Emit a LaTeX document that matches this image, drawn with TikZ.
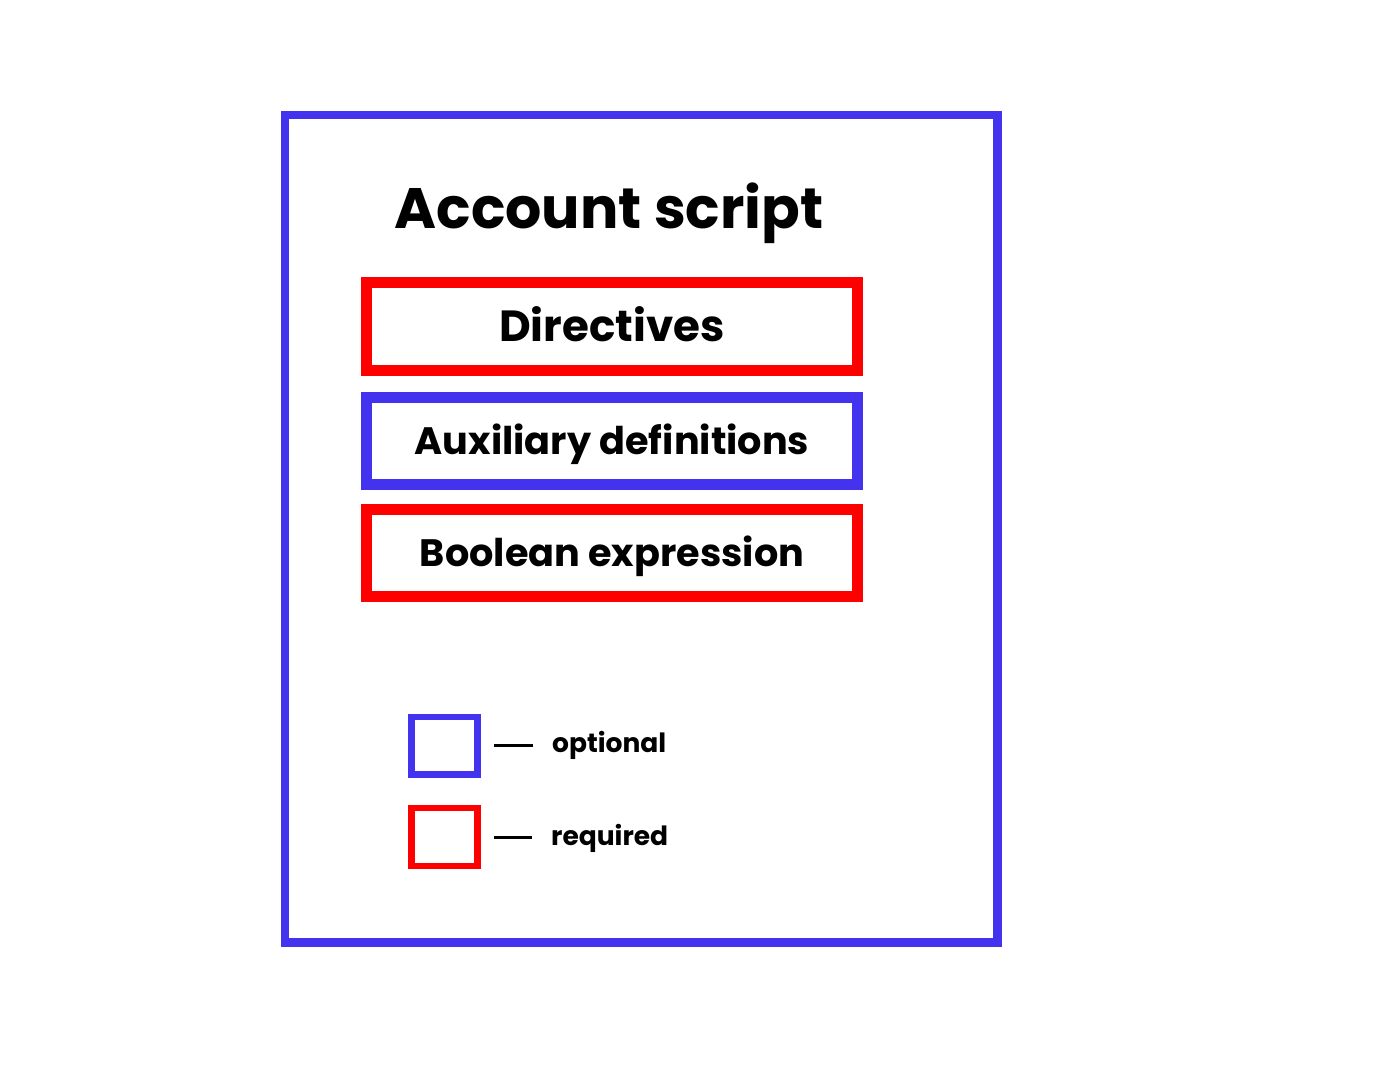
\documentclass[tikz,border=0pt]{standalone}
\usepackage{fontspec}
\setmainfont{Poppins}
\usetikzlibrary{positioning}
\definecolor{optblue}{RGB}{68,51,238}
\definecolor{reqred}{RGB}{255,0,0}

\tikzset{
  part/.style={draw, line width=11pt, minimum width=491pt, minimum height=87pt,
    inner sep=0pt, text=black, text height=26.6pt, text depth=0pt,
    font=\fontsize{38.2}{38.2}\selectfont\bfseries},
  key/.style={draw, line width=6.5pt, minimum width=66pt, minimum height=57.5pt, inner sep=0pt},
  keylabel/.style={inner sep=0pt, anchor=west, text height=14.5pt, text depth=0pt,
    font=\fontsize{26.5}{26.5}\selectfont\bfseries},
  keyline/.style={line width=3pt, shorten <=13pt, shorten >=19pt}
}

\begin{document}
\begin{tikzpicture}[x=1pt, y=-1pt]

\useasboundingbox (0,0) rectangle (1386,1078);

% frame %
\draw[optblue, line width=8.5pt] (285,115) rectangle (997.5,942.5);

% nodes %
\node[inner sep=0pt, text height=40pt, text depth=0pt, font=\fontsize{57}{57}\selectfont\bfseries] (title) at (609,208) {Account script};
\node[part, draw=reqred, minimum height=88pt, text height=30.5pt, font=\fontsize{43.6}{43.6}\selectfont\bfseries] (dir) at (612,326) {Directives};
\node[part, draw=optblue, below = 16.5pt of dir] (aux) {Auxiliary definitions};
\node[part, draw=reqred, below = 14pt of aux] (bool) {Boolean expression};

% legend %
\node[key, draw=optblue] (optkey) at (444.5,745.75) {};
\node[key, draw=reqred, minimum height=58pt] (reqkey) at (444.5,837) {};
\node[keylabel] (optlabel) at (552,745.5) {optional};
\node[keylabel] (reqlabel) at (551,838) {required};

% edges %
\draw[keyline] (optkey.east) -- (optkey.east -| optlabel.west);
\draw[keyline] (reqkey.east) -- (reqkey.east -| reqlabel.west);

\end{tikzpicture}
\end{document}
